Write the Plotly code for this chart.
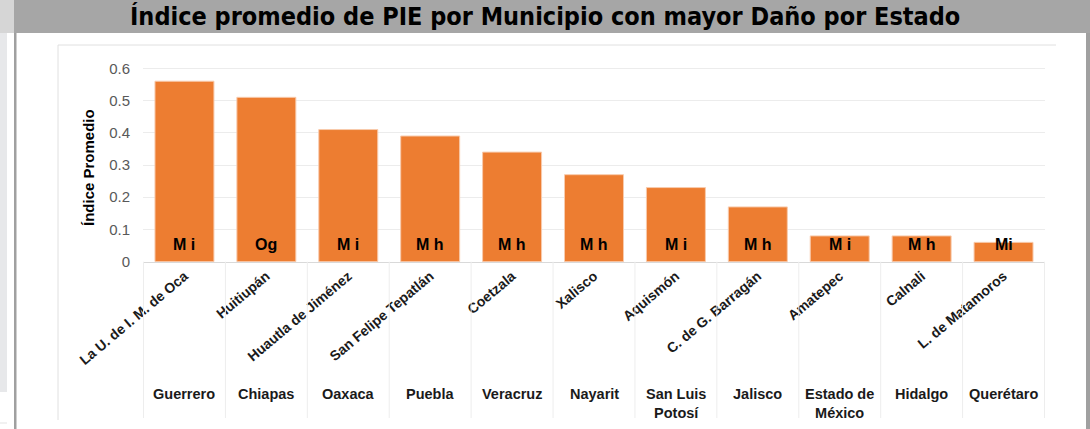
import plotly.graph_objects as go

# ---- data ----
municipios = ["La U. de I. M. de Oca", "Huitiupán", "Huautla de Jiménez",
              "San Felipe Tepatlán", "Coetzala", "Xalisco", "Aquismón",
              "C. de G. Barragán", "Amatepec", "Calnali", "L. de Matamoros"]
estados = ["Guerrero", "Chiapas", "Oaxaca", "Puebla", "Veracruz", "Nayarit",
           "San Luis<br>Potosí", "Jalisco", "Estado de<br>México", "Hidalgo",
           "Querétaro"]
indice = [0.56, 0.51, 0.41, 0.39, 0.34, 0.27, 0.23, 0.17, 0.08, 0.08, 0.06]
etiquetas = ["M i", "Og", "M i", "M h", "M h", "M h", "M i", "M h", "M i", "M h", "Mi"]
y_tickvals = [0, 0.1, 0.2, 0.3, 0.4, 0.5, 0.6]
y_ticktext = ["0", "0.1", "0.2", "0.3", "0.4", "0.5", "0.6"]
titulo = "Índice promedio de PIE por Municipio con mayor Daño por Estado"
titulo_y = "Índice Promedio"

# ---- layout helpers (pixel -> paper) ----
W, H = 1090, 429
def px(x):
    return x / W
def py(y):
    return 1 - y / H

y_top_val = 0.62
y_zero_px = 261.7
px_per_unit = 322.3
plot_top_px = y_zero_px - y_top_val * px_per_unit

FONT = "Liberation Sans, Arial, sans-serif"

fig = go.Figure()
fig.add_trace(go.Bar(
    x=municipios, y=indice,
    marker=dict(color="#ED7D31", line=dict(color="#F8CBAD", width=1)),
    hoverinfo="x+y",
))

shapes = []
# title bar
shapes.append(dict(type="rect", xref="paper", yref="paper", x0=0, x1=1,
                   y0=py(33), y1=1, fillcolor="#A6A6A6", line=dict(width=0), layer="below"))
shapes.append(dict(type="rect", xref="paper", yref="paper", x0=0, x1=px(14),
                   y0=py(33), y1=1, fillcolor="#D6D6D6", line=dict(width=0), layer="below"))
# left light strip
shapes.append(dict(type="rect", xref="paper", yref="paper", x0=0, x1=px(7),
                   y0=py(392), y1=py(33), fillcolor="#E7E8EA", line=dict(width=0), layer="below"))
shapes.append(dict(type="line", xref="paper", yref="paper", x0=0, x1=px(7),
                   y0=py(423), y1=py(423), line=dict(color="#E3E3E3", width=1)))
# dark vertical frame lines
shapes.append(dict(type="rect", xref="paper", yref="paper", x0=px(14), x1=px(16.5),
                   y0=0, y1=py(33), fillcolor="#A0A0A0", line=dict(width=0)))
shapes.append(dict(type="rect", xref="paper", yref="paper", x0=px(1086), x1=1,
                   y0=0, y1=py(33), fillcolor="#A0A0A0", line=dict(width=0)))
# chart outer border (top + left)
shapes.append(dict(type="line", xref="paper", yref="paper", x0=px(58), x1=px(1056),
                   y0=py(45), y1=py(45), line=dict(color="#E0E0E0", width=1)))
shapes.append(dict(type="line", xref="paper", yref="paper", x0=px(58), x1=px(58),
                   y0=py(45), y1=py(420), line=dict(color="#E0E0E0", width=1)))
# category separators for multi-level axis
for k in range(len(municipios) + 1):
    shapes.append(dict(type="line", xref="x", yref="paper", x0=k - 0.5, x1=k - 0.5,
                       y0=py(y_zero_px), y1=py(418), line=dict(color="#EDEDED", width=1)))

annotations = []
annotations.append(dict(text="<b>" + titulo + "</b>", xref="paper", yref="paper",
                        x=px(545), y=py(17), xanchor="center", yanchor="middle",
                        showarrow=False,
                        font=dict(family="Liberation Sans Narrow, Arial Narrow, DejaVu Sans Condensed, sans-serif",
                                  size=25, color="#000000")))
annotations.append(dict(text="<b>" + titulo_y + "</b>", xref="paper", yref="paper",
                        x=px(88), y=py(168), xanchor="center", yanchor="middle",
                        textangle=-90, showarrow=False,
                        font=dict(family=FONT, size=15, color="#000000")))
for m, lab in zip(municipios, etiquetas):
    annotations.append(dict(text="<b>" + lab + "</b>", xref="x", yref="y",
                            x=m, y=0.053, xanchor="center", yanchor="middle",
                            showarrow=False,
                            font=dict(family=FONT, size=16, color="#000000")))
for m, est in zip(municipios, estados):
    annotations.append(dict(text="<b>" + est + "</b>", xref="x", yref="paper",
                            x=m, y=py(384), xanchor="center", yanchor="top",
                            showarrow=False,
                            font=dict(family=FONT, size=14.5, color="#1A1A1A")))

fig.update_layout(
    template="none",
    width=W, height=H,
    margin=dict(l=0, r=0, t=0, b=0, pad=0),
    paper_bgcolor="#FFFFFF", plot_bgcolor="#FFFFFF",
    showlegend=False,
    bargap=0.28,
    font=dict(family=FONT),
    shapes=shapes,
    annotations=annotations,
    xaxis=dict(domain=[px(143), px(1045)], type="category", automargin=False,
               tickangle=-40, tickfont=dict(family=FONT, size=14, color="#1A1A1A"),
               showgrid=False, showline=True, linecolor="#D9D9D9", linewidth=1,
               ticks="", zeroline=False,
               tickvals=municipios, ticktext=["<b>" + m + "</b>" for m in municipios]),
    yaxis=dict(domain=[py(y_zero_px), py(plot_top_px)], range=[0, y_top_val],
               automargin=False,
               tickvals=y_tickvals, ticktext=y_ticktext,
               tickfont=dict(family=FONT, size=15, color="#595959"),
               showgrid=True, gridcolor="#ECECEC", gridwidth=1,
               zeroline=False, showline=False, ticks="", ticklabelstandoff=12),
)

fig.write_html("out.html", config={"displayModeBar": False},
               post_script="document.body.style.margin='0';")
